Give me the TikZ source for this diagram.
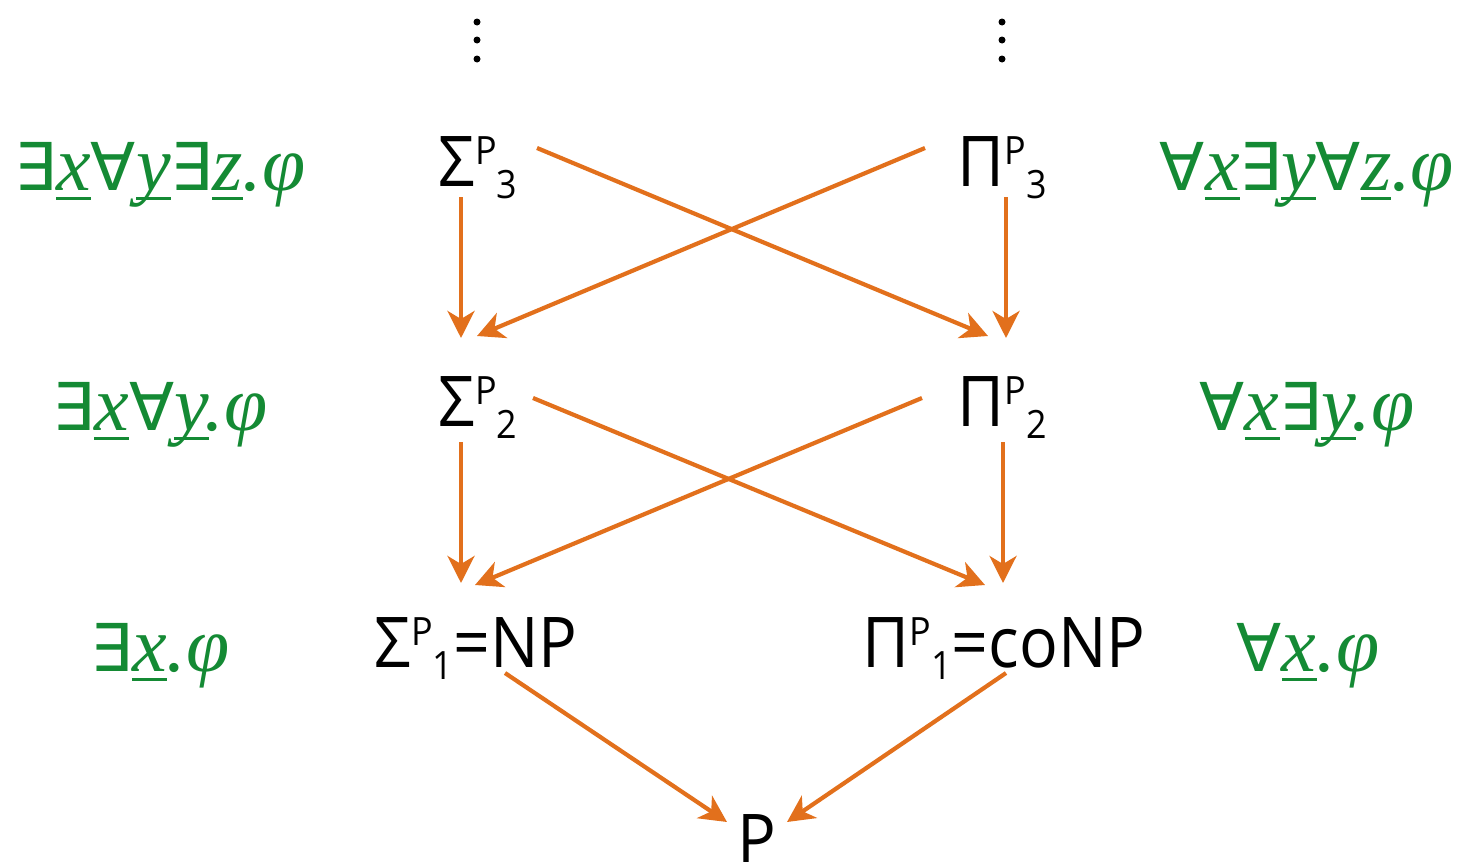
\documentclass[tikz,border=0pt]{standalone}
\usepackage{fontspec}
\setmainfont{Open Sans}[FakeStretch=0.92]
\newfontfamily\qfont{DejaVu Sans}
\newfontfamily\ifont{Liberation Serif}
\usetikzlibrary{arrows.meta,calc}
\definecolor{gr}{RGB}{20,138,52}
\definecolor{orng}{RGB}{226,112,28}
\newlength\ulw
\newcommand\clsname[3]{#1\raisebox{22pt}{\fontsize{39}{39}\selectfont #2}\raisebox{-12pt}{\fontsize{39}{39}\selectfont #3}}
\newcommand\qq[1]{{\qfont\fontsize{66}{66}\selectfont #1}}
\newcommand\vv[1]{\settowidth\ulw{\ifont\itshape #1}\rlap{\rule[-10pt]{\ulw}{3pt}}{\ifont\itshape #1}}
\newcommand\dotphi{{\ifont\itshape .φ}}
\tikzset{
  cls/.style={inner sep=0pt, anchor=base, font=\fontsize{70}{70}\selectfont},
  form/.style={inner sep=0pt, anchor=base, text=gr, font=\fontsize{78}{78}\selectfont},
  arr/.style={draw=orng, line width=4.2pt, -{Stealth[length=27pt,width=27pt,inset=8pt]}},
  vdot/.style={fill=black, circle, inner sep=0pt, minimum size=7pt}
}
\begin{document}
\begin{tikzpicture}[x=1pt,y=-1pt]
\useasboundingbox (0,0) rectangle (1460,862);
% dots
\node[vdot] (a1) at (477,22) {};
\node[vdot] (a2) at (477,40) {};
\node[vdot] (a3) at (477,59) {};
\node[vdot] (b1) at (1002,22) {};
\node[vdot] (b2) at (1002,40) {};
\node[vdot] (b3) at (1002,59) {};
% classes
\node[cls] (s3) at (478,186) {\clsname{Σ}{P}{3}};
\node[cls] (p3) at (1002,186) {\clsname{Π}{P}{3}};
\node[cls] (s2) at (478,426) {\clsname{Σ}{P}{2}};
\node[cls] (p2) at (1002,426) {\clsname{Π}{P}{2}};
\node[cls] (s1) at (476,667) {\clsname{Σ}{P}{1}=NP};
\node[cls] (p1) at (1004,667) {\clsname{Π}{P}{1}=coNP};
\node[cls] (pp) at (757,864) {P};
% formulas
\node[form] (f3l) at (160,190) {\qq{∃}\vv{x}\qq{∀}\vv{y}\qq{∃}\vv{z}\dotphi};
\node[form] (f2l) at (160,430) {\qq{∃}\vv{x}\qq{∀}\vv{y}\dotphi};
\node[form] (f1l) at (160,671) {\qq{∃}\vv{x}\dotphi};
\node[form] (f3r) at (1307,190) {\qq{∀}\vv{x}\qq{∃}\vv{y}\qq{∀}\vv{z}\dotphi};
\node[form] (f2r) at (1307,430) {\qq{∀}\vv{x}\qq{∃}\vv{y}\dotphi};
\node[form] (f1r) at (1308,671) {\qq{∀}\vv{x}\dotphi};
% arrows row 1
\draw[arr] ($(s3.base)+(-17,11)$) -- ($(s2.base)+(-17,-88)$);
\draw[arr] ($(p3.base)+(4,11)$) -- ($(p2.base)+(4,-88)$);
\draw[arr] ($(s3.base)+(59,-38)$) -- ($(p2.base)+(-14,-90)$);
\draw[arr] ($(p3.base)+(-77,-38)$) -- ($(s2.base)+(-1,-90)$);
% arrows row 2
\draw[arr] ($(s2.base)+(-17,16)$) -- ($(s1.base)+(-15,-84)$);
\draw[arr] ($(p2.base)+(1,16)$) -- ($(p1.base)+(-1,-84)$);
\draw[arr] ($(s2.base)+(55,-28)$) -- ($(p1.base)+(-19,-82)$);
\draw[arr] ($(p2.base)+(-80,-28)$) -- ($(s1.base)+(-1,-82)$);
% arrows row 3
\draw[arr] ($(s1.base)+(29,6)$) -- ($(pp.base)+(-30,-42)$);
\draw[arr] ($(p1.base)+(2,6)$) -- ($(pp.base)+(30,-42)$);
\end{tikzpicture}
\end{document}
